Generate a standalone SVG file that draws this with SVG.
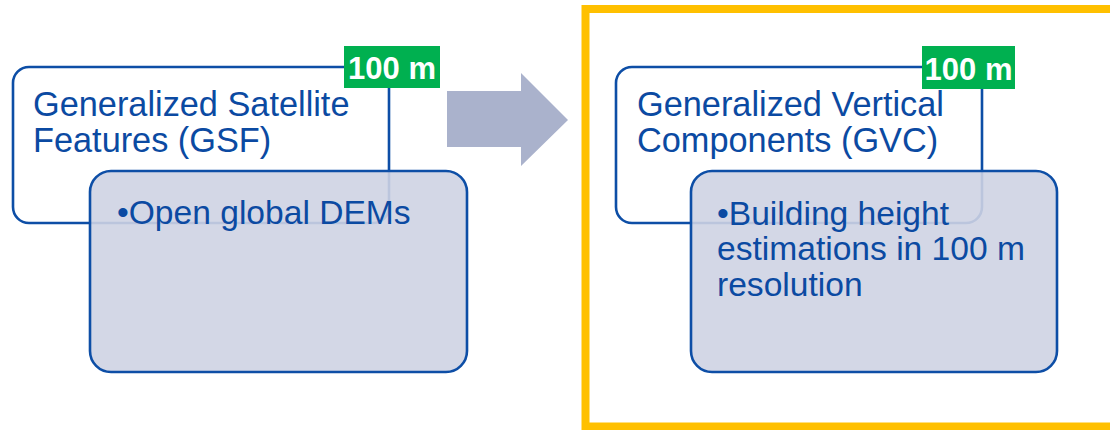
<svg xmlns="http://www.w3.org/2000/svg" width="1110" height="430" viewBox="0 0 1110 430">
<style>
.outer{fill:#ffffff;stroke:#0d4ea6;stroke-width:2.6}
.inner{fill:#ced3e3;fill-opacity:0.9;stroke:#0d4ea6;stroke-width:2.6}
.tag{fill:#00b050}
.tagt{font-family:"Liberation Sans",Arial,sans-serif;font-weight:bold;font-size:31px;fill:#ffffff}
.t{font-family:"Liberation Sans",Arial,sans-serif;font-size:34.3px;fill:#0b4aa2}
.b{font-family:"Liberation Sans",Arial,sans-serif;font-size:33.6px;fill:#0b4aa2}
</style>
<rect x="0" y="0" width="1110" height="430" fill="#ffffff"/>
<g id="frame">
<rect x="585.5" y="9" width="540" height="417.5" fill="none" stroke="#ffc000" stroke-width="8"/>
</g>
<g id="gsf">
<rect class="outer" x="13" y="67" width="376" height="156" rx="16"/>
<text class="t" x="33" y="116">Generalized Satellite</text>
<text class="t" x="33" y="152">Features (GSF)</text>
</g>
<g id="gsf-tag">
<rect class="tag" x="344" y="46" width="96" height="42"/>
<text class="tagt" x="392" y="79" text-anchor="middle">100 m</text>
</g>
<g id="gsf-detail">
<rect class="inner" x="90" y="171" width="377" height="201" rx="21"/>
<text class="b" x="117" y="224">•Open global DEMs</text>
</g>
<g id="connectors">
<polygon points="447,91 521,91 521,73 568,120 521,166 521,147 447,147" fill="#aab2cc"/>
</g>
<g id="gvc">
<rect class="outer" x="616" y="67" width="366" height="156" rx="16"/>
<text class="t" x="637" y="116">Generalized Vertical</text>
<text class="t" x="637" y="152">Components (GVC)</text>
</g>
<g id="gvc-tag">
<rect class="tag" x="922" y="46" width="93" height="43"/>
<text class="tagt" x="968.5" y="80" text-anchor="middle">100 m</text>
</g>
<g id="gvc-detail">
<rect class="inner" x="691" y="171" width="366" height="201" rx="21"/>
<text class="b" x="717" y="225">•Building height</text>
<text class="b" x="717" y="260">estimations in 100 m</text>
<text class="b" x="717" y="296">resolution</text>
</g>
</svg>
